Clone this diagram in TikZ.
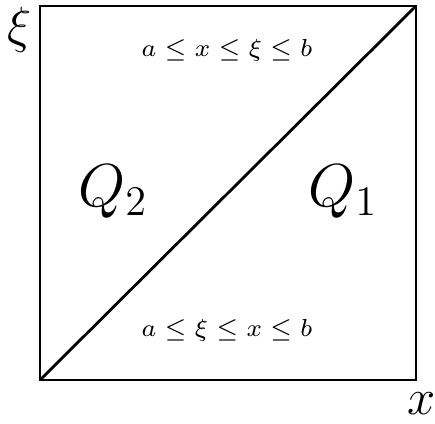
\documentclass[tikz,border=0pt]{standalone}
\usepackage{amsmath,amssymb}
\usepackage{tikz}
\usetikzlibrary{positioning,calc}

\begin{document}
\begin{tikzpicture}[
        every node/.style={inner sep=0pt},
        edge/.style={black,line width=0.8pt},
        region/.style={font=\LARGE},
        cond/.style={font=\scriptsize},
        axis/.style={font=\Large}
      ]
        \useasboundingbox (0,0) rectangle (4.35,4.23);
        \coordinate (lo) at (0.40,0.43);
        \coordinate (hi) at (4.16,4.17);
        \draw[edge] (lo) rectangle (hi);
        \draw[edge] (lo) -- (hi);
        \node[axis] (xi) at (0.20,3.93) {$\xi$};
        \node[axis] (x) at (4.22,0.19) {$x$};
        \node[region] (q2) at (1.13,2.31) {$Q_2$};
        \node[region] (q1) at (3.43,2.31) {$Q_1$};
        \node[cond] (upper) at (2.27,3.73) {$a\leq x\leq\xi\leq b$};
        \node[cond] (lower) at (2.27,0.93) {$a\leq\xi\leq x\leq b$};
      \end{tikzpicture}
\end{document}
